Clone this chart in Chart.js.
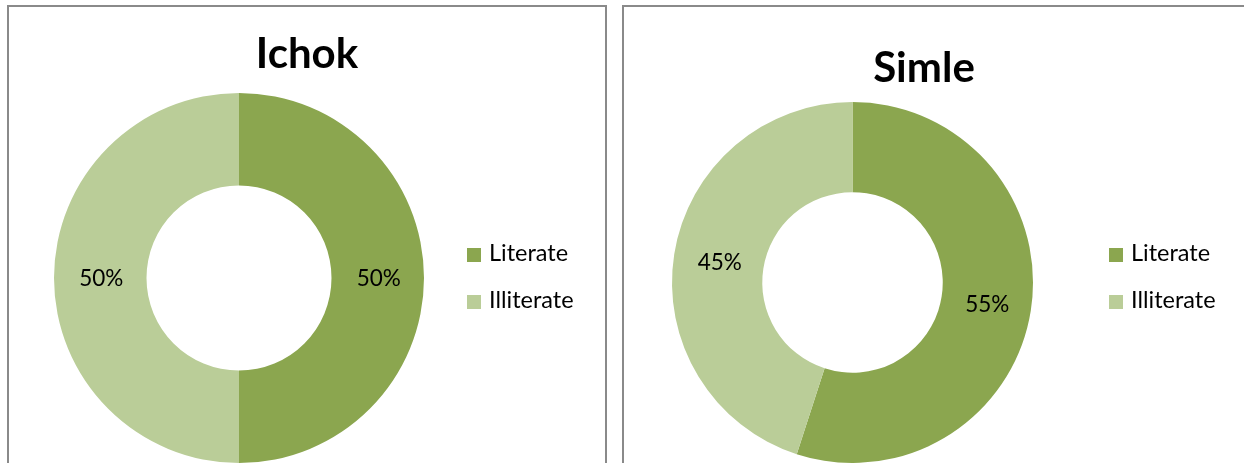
<!DOCTYPE html>
<html>
<head>
<meta charset="utf-8">
<script src="https://cdn.jsdelivr.net/npm/chart.js@4.4.0/dist/chart.umd.min.js"></script>
<style>
html,body{margin:0;padding:0;background:#fff;width:1244px;height:463px;overflow:hidden;}
.panel{position:absolute;border:2px solid #8a8a8a;box-sizing:border-box;z-index:2;pointer-events:none;}
canvas{position:absolute;top:0;}
</style>
</head>
<body>
<div class="panel" style="left:7px;top:5px;width:600px;height:480px;"></div>
<div class="panel" style="left:622px;top:5px;width:640px;height:480px;"></div>
<canvas id="c1" width="612" height="463" style="left:0px"></canvas>
<canvas id="c2" width="630" height="463" style="left:614px"></canvas>
<script>
const categories = ["Literate", "Illiterate"];
const ichokValues = [50, 50];
const simleValues = [55, 45];
const chartTitles = ["Ichok", "Simle"];
const sliceColors = ["#8ba64f", "#bacd98"];

const FONT = "Lato, 'Open Sans', sans-serif";

function overlayPlugin(title, titleX, titleY, legendX, legendY) {
  return {
    id: 'overlay',
    afterDraw(chart) {
      const ctx = chart.ctx;
      ctx.save();
      // title
      ctx.fillStyle = '#000';
      ctx.font = "bold 42px " + FONT;
      ctx.textAlign = 'center';
      ctx.textBaseline = 'alphabetic';
      ctx.fillText(title, titleX, titleY);
      // labels
      const meta = chart.getDatasetMeta(0);
      const data = chart.data.datasets[0].data;
      ctx.font = "22.5px " + FONT;
      ctx.textBaseline = 'middle';
      meta.data.forEach((arc, i) => {
        const p = arc.tooltipPosition();
        ctx.fillText(data[i] + '%', p.x + 1, p.y + 1);
      });
      // legend
      ctx.textAlign = 'left';
      ctx.font = "23.5px " + FONT;
      chart.data.labels.forEach((lab, i) => {
        const y = legendY + i * 47;
        ctx.fillStyle = chart.data.datasets[0].backgroundColor[i];
        ctx.fillRect(legendX, y, 14, 14);
        ctx.fillStyle = '#000';
        ctx.textBaseline = 'alphabetic';
        ctx.fillText(lab, legendX + 22, y + 13);
      });
      ctx.restore();
    }
  };
}

function makeChart(id, values, pad, plugin) {
  return new Chart(document.getElementById(id), {
    type: 'doughnut',
    data: {
      labels: categories,
      datasets: [{
        data: values,
        backgroundColor: sliceColors,
        borderWidth: 0,
        hoverOffset: 0
      }]
    },
    options: {
      responsive: false,
      animation: false,
      cutout: '50%',
      layout: { padding: pad },
      plugins: { legend: { display: false }, title: { display: false }, tooltip: { enabled: false } }
    },
    plugins: [plugin]
  });
}

makeChart('c1', ichokValues, {left: 54, top: 93, right: 188, bottom: 0},
  overlayPlugin(chartTitles[0], 307, 68, 467, 248));
makeChart('c2', simleValues, {left: 58, top: 102, right: 211, bottom: 0},
  overlayPlugin(chartTitles[1], 924 - 614, 82, 1109 - 614, 248));
</script>
</body>
</html>
